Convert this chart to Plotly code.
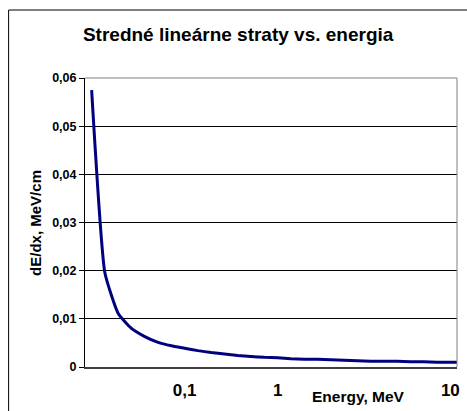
import plotly.graph_objects as go

# Data (category axis, as in the original Excel line chart)
energies = [0.01, 0.03, 0.05, 0.06, 0.07, 0.08, 0.09, 0.1, 0.2, 0.3, 0.4, 0.5, 0.6, 0.8,
            1, 1.25, 1.5, 2, 2.5, 3, 3.5, 4, 5, 6, 7, 8, 9, 10, 12]
dedx = [0.0575, 0.0195, 0.0111, 0.0080, 0.0063, 0.0051, 0.0044, 0.0039, 0.0034, 0.0030,
        0.0027, 0.0024, 0.0022, 0.0020, 0.0019, 0.0017, 0.0016, 0.0016, 0.0015, 0.0014,
        0.0013, 0.0012, 0.0012, 0.0012, 0.0011, 0.0011, 0.0010, 0.0010, 0.0010]
x_tick_values = ["0.1", "1", "10"]
x_tick_labels = ["0,1", "1", "10"]
y_tick_values = [0, 0.01, 0.02, 0.03, 0.04, 0.05, 0.06]
y_tick_labels = ["0", "0,01", "0,02", "0,03", "0,04", "0,05", "0,06"]

cats = [f"{e:g}" for e in energies]

FONT = "Arial, Liberation Sans, sans-serif"

fig = go.Figure()
fig.add_trace(go.Scatter(
    x=cats, y=dedx, mode="lines",
    line=dict(color="#000080", width=3, shape="spline", smoothing=0.45),
    showlegend=False, hoverinfo="skip",
))

fig.update_layout(
    width=467, height=411, autosize=False,
    margin=dict(l=85, r=7, t=78, b=44),
    paper_bgcolor="white", plot_bgcolor="white",
    font=dict(family=FONT, color="black"),
    title=dict(text="Stredné lineárne straty vs. energia",
               font=dict(family=FONT, size=19, weight="bold", color="black"),
               x=0.51, xref="container", xanchor="center",
               y=1 - 34 / 411, yref="container", yanchor="middle"),
    xaxis=dict(type="category", range=[-0.5, 27.5],
               tickvals=x_tick_values, ticktext=x_tick_labels,
               tickfont=dict(family=FONT, size=17, weight="bold", color="black"),
               ticks="outside", ticklen=7, tickcolor="rgba(0,0,0,0)",
               showgrid=False, showline=True, linecolor="#404040", linewidth=2,
               zeroline=False),
    yaxis=dict(range=[0, 0.06], tickvals=y_tick_values, ticktext=y_tick_labels,
               tickfont=dict(family=FONT, size=12.5, weight="bold", color="black"),
               ticks="outside", ticklen=5, tickcolor="black",
               showgrid=True, gridcolor="black", gridwidth=1,
               showline=True, linecolor="black", linewidth=1, zeroline=False),
    shapes=[
        dict(type="line", xref="paper", yref="paper", x0=0, x1=1, y0=1, y1=1,
             line=dict(color="#808080", width=1), layer="above"),
        dict(type="line", xref="paper", yref="paper", x0=1, x1=1, y0=0, y1=1,
             line=dict(color="#808080", width=1), layer="above"),
        dict(type="rect", xref="paper", yref="paper",
             x0=(8 - 85) / 375, x1=(475 - 85) / 375,
             y0=(367 - 420) / 289, y1=(367 - 10) / 289,
             line=dict(color="black", width=1), fillcolor="rgba(0,0,0,0)", layer="above"),
    ],
    annotations=[
        dict(text="dE/dx, MeV/cm", textangle=-90, xref="paper", yref="paper",
             x=(35 - 85) / 375, y=0.5, xanchor="center", yanchor="middle",
             showarrow=False, font=dict(family=FONT, size=15, weight="bold", color="black")),
        dict(text="Energy, MeV", xref="paper", yref="paper",
             x=(361 - 85) / 375, y=(367 - 396.5) / 289, xanchor="center", yanchor="middle",
             showarrow=False, font=dict(family=FONT, size=15.5, weight="bold", color="black")),
    ],
)

fig.write_html("out.html")
